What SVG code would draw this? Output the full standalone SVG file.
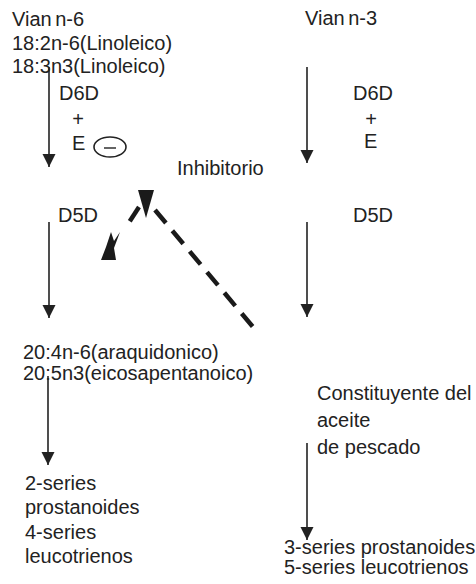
<svg xmlns="http://www.w3.org/2000/svg" width="476" height="584" viewBox="0 0 476 584">
<defs>
<style>
text{font-family:"Liberation Sans",Arial,Helvetica,sans-serif;font-size:20px;fill:#222}
.tight{word-spacing:-2px}
.arr{stroke:#222;stroke-width:1.6;fill:none;marker-end:url(#ah)}
.dash{stroke:#1a1a1a;stroke-width:4.5;fill:none;stroke-dasharray:17 10}
.blk{fill:#1a1a1a}
</style>
<marker id="ah" markerUnits="userSpaceOnUse" markerWidth="14" markerHeight="14" refX="13" refY="6.5" orient="auto">
<path d="M0,0 L13,6.5 L0,13 z" fill="#222"/>
</marker>
</defs>
<rect width="476" height="584" fill="#fff"/>
<g id="n6">
<text class="tight" x="12" y="26">Vian n-6</text>
<text x="12" y="50">18:2n-6(Linoleico)</text>
<text x="12" y="73">18:3n3(Linoleico)</text>
</g>
<g id="n3">
<text class="tight" x="305" y="25">Vian n-3</text>
</g>
<g id="d6d-left">
<text x="59" y="100">D6D</text>
<text x="78" y="126" text-anchor="middle">+</text>
<text x="72" y="150">E</text>
<ellipse cx="110" cy="147" rx="16" ry="10" fill="none" stroke="#222" stroke-width="1.6"/>
<line x1="104" y1="148" x2="116" y2="148" stroke="#222" stroke-width="1.4"/>
</g>
<g id="d6d-right">
<text x="353" y="100">D6D</text>
<text x="371" y="126" text-anchor="middle">+</text>
<text x="364" y="148">E</text>
</g>
<g id="inhibitorio">
<text x="177" y="175">Inhibitorio</text>
</g>
<g id="d5d-left">
<text x="58" y="222">D5D</text>
</g>
<g id="d5d-right">
<text x="353" y="222">D5D</text>
</g>
<g id="c20">
<text x="23" y="359">20:4n-6(araquidonico)</text>
<text x="23" y="380">20:5n3(eicosapentanoico)</text>
</g>
<g id="pescado">
<text x="317" y="400">Constituyente del</text>
<text x="317" y="427">aceite</text>
<text x="317" y="454">de pescado</text>
</g>
<g id="series-left">
<text x="25" y="490">2-series</text>
<text x="25" y="514">prostanoides</text>
<text x="25" y="539">4-series</text>
<text x="25" y="563">leucotrienos</text>
</g>
<g id="series-right">
<text x="284" y="554">3-series prostanoides</text>
<text x="284" y="574">5-series leucotrienos</text>
</g>
<g id="connectors">
<line class="arr" x1="49" y1="67" x2="49" y2="167"/>
<line class="arr" x1="307" y1="67" x2="307" y2="163"/>
<line class="arr" x1="49" y1="222" x2="49" y2="318"/>
<line class="arr" x1="307" y1="222" x2="307" y2="317"/>
<line class="arr" x1="48" y1="376" x2="48" y2="465"/>
<line class="arr" x1="307" y1="443" x2="307" y2="540"/>
<line class="dash" x1="155" y1="210" x2="253" y2="327"/>
<line class="dash" x1="139" y1="207" x2="128" y2="224" stroke-dasharray="none"/>
<polygon class="blk" points="138,190 154,190 146,218"/>
<polygon class="blk" points="101,260 116,260 114,248 120,232 114,241 111,232 106,247"/>
</g>
</svg>
